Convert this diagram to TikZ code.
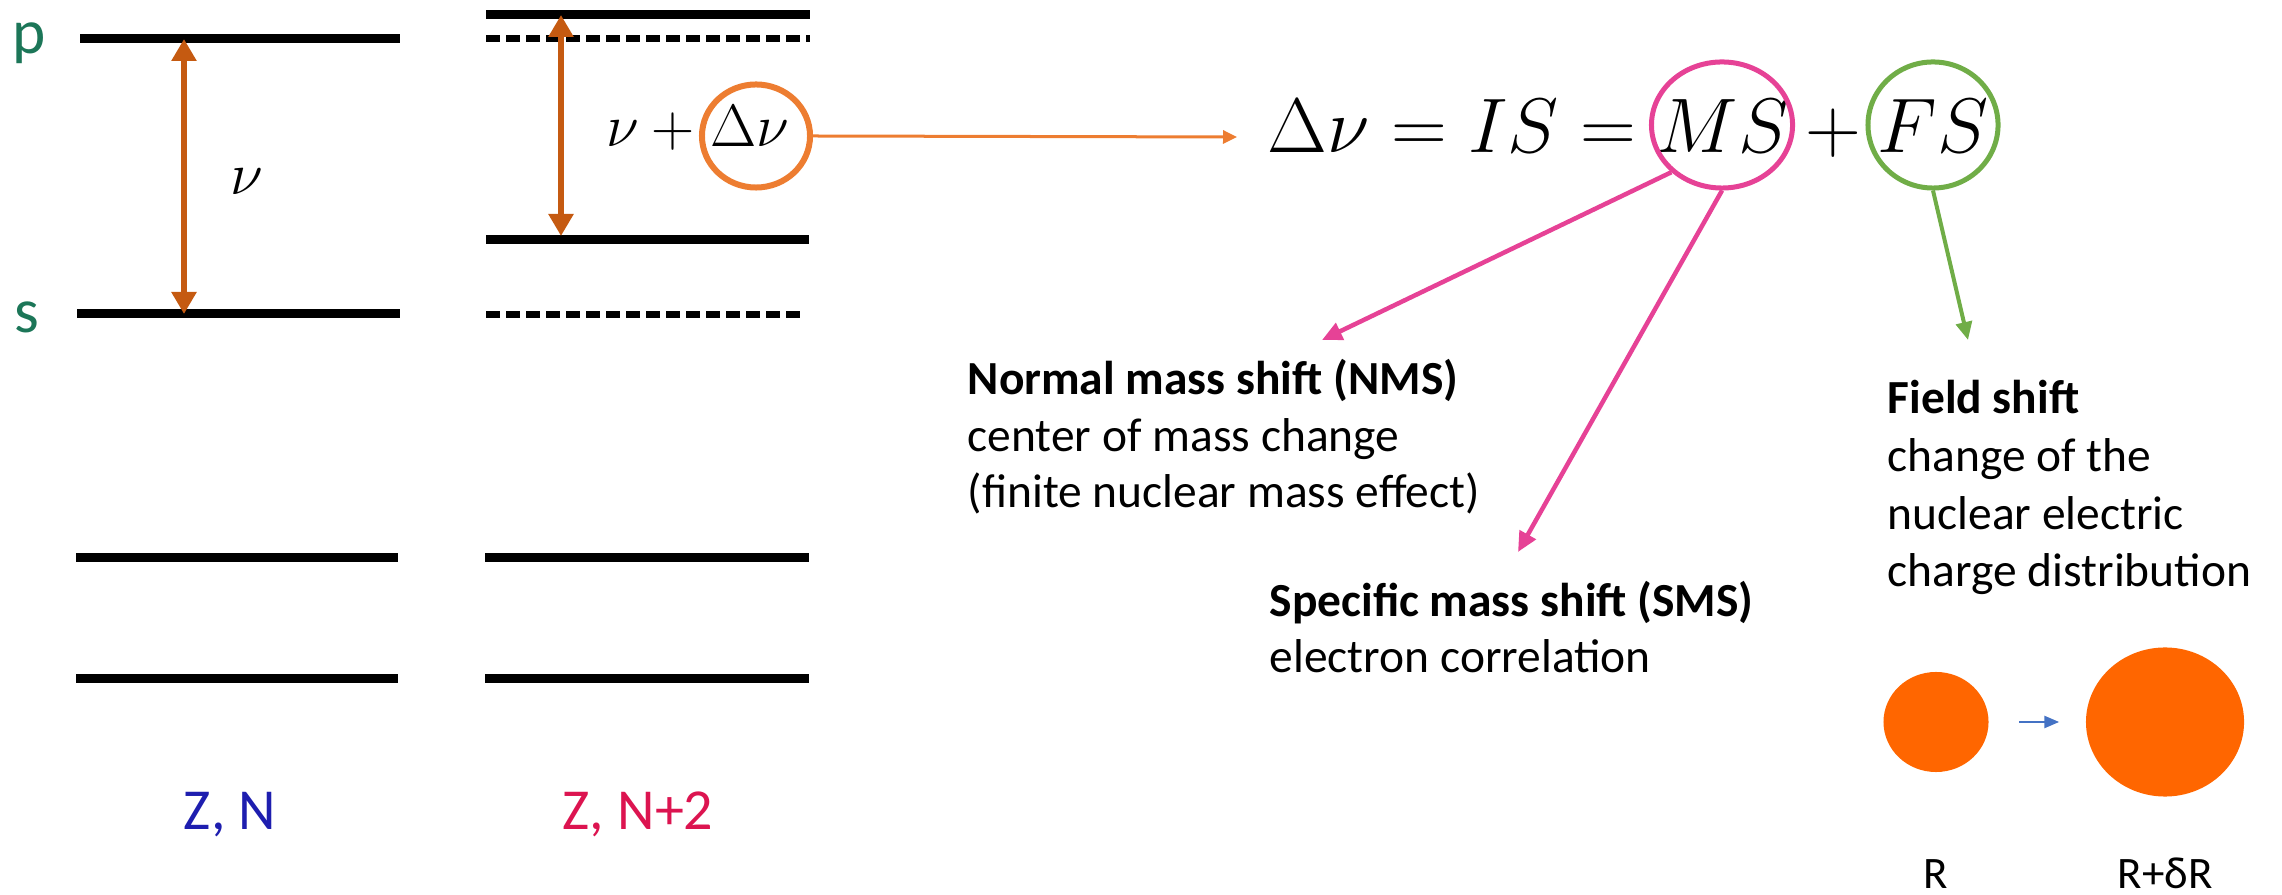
\RequirePackage{fix-cm}
\documentclass[tikz,border=0pt]{standalone}
\usepackage[no-math]{fontspec}
\setmainfont{Carlito}
\usetikzlibrary{arrows.meta,shapes.geometric}
\definecolor{levelarrow}{RGB}{197,90,17}
\definecolor{orangeC}{RGB}{237,125,49}
\definecolor{magentaC}{RGB}{230,66,150}
\definecolor{greenC}{RGB}{112,173,71}
\definecolor{nucleusC}{RGB}{255,102,0}
\definecolor{blueC}{RGB}{68,114,196}
\definecolor{zNblue}{RGB}{30,30,175}
\definecolor{zNred}{RGB}{220,20,80}
\definecolor{labelgreen}{RGB}{28,118,88}
\begin{document}
\begin{tikzpicture}[x=0.01cm,y=-0.01cm,
  level/.style={line width=0.09cm},
  dashlevel/.style={line width=0.07cm, dash pattern=on 0.14cm off 0.06cm},
  nuarrow/.style={draw=levelarrow, line width=0.06cm, {Triangle[length=0.22cm,width=0.24cm]}-{Triangle[length=0.22cm,width=0.24cm]}},
  oarrow/.style={draw=orangeC, line width=0.03cm, -{Triangle[length=0.14cm,width=0.13cm]}},
  magarrow/.style={draw=magentaC, line width=0.045cm, -{Triangle[length=0.2cm,width=0.18cm]}},
  grarrow/.style={draw=greenC, line width=0.04cm, -{Triangle[length=0.18cm,width=0.16cm]}},
  bluearrow/.style={draw=blueC, line width=0.025cm, -{Triangle[length=0.15cm,width=0.12cm]}},
  mathlab/.style={inner sep=0pt, font=\fontsize{17pt}{20pt}\selectfont},
  eqfont/.style={inner sep=0pt, font=\fontsize{22pt}{26pt}\selectfont},
  bodytext/.style={inner sep=0pt, font=\fontsize{13.5pt}{16pt}\selectfont},
  rlab/.style={inner sep=0pt, font=\fontsize{12.8pt}{15pt}\selectfont},
  znlab/.style={inner sep=0pt, font=\fontsize{16.5pt}{20pt}\selectfont},
  pslab/.style={inner sep=0pt, text=labelgreen, font=\fontsize{18pt}{21pt}\selectfont},
  ring/.style={ellipse, inner sep=0pt},
  nucleus/.style={ellipse, inner sep=0pt, fill=nucleusC}
]
\useasboundingbox (0,0) rectangle (2282,895);

% level labels
\node[pslab, anchor=base] (plab) at (29,54) {p};
\node[pslab, anchor=base] (slab) at (27,333) {s};

% levels (Z, N)
\draw[level] (80,39) -- (400,39);
\draw[level] (77,314) -- (400,314);
\draw[level] (76,558) -- (398,558);
\draw[level] (76,679) -- (398,679);
% levels (Z, N+2)
\draw[level] (486,15) -- (810,15);
\draw[dashlevel] (486,39) -- (810,39);
\draw[level] (486,240) -- (809,240);
\draw[dashlevel] (486,315) -- (802,315);
\draw[level] (485,558) -- (809,558);
\draw[level] (485,679) -- (809,679);

% transition arrows
\coordinate (nuLtop) at (184,39);
\coordinate (nuLbot) at (184,314);
\coordinate (nuRtop) at (561,15);
\coordinate (nuRbot) at (561,236);
\draw[nuarrow] (nuLtop) -- (nuLbot);
\draw[nuarrow] (nuRtop) -- (nuRbot);

\node[mathlab] (nuL) at (247,182) {$\nu$};
\node[mathlab, anchor=base east] (nuplus) at (709,147) {$\nu+{}$};
\node[mathlab, anchor=base] (dnu) at (750,147) {$\Delta\nu$};
\node[ring, draw=orangeC, line width=0.06cm, minimum width=1.08cm, minimum height=1.03cm] (dnuc) at (756,136) {};

% isotope labels
\node[znlab, text=zNblue, anchor=base] (zn) at (230,830) {Z, N};
\node[znlab, text=zNred, anchor=base] (zn2) at (638,830) {Z, N+2};

% equation
\node[eqfont, anchor=base west] (eqL) at (1267,153) {$\Delta\nu = IS =$};
\node[eqfont, anchor=base] (msT) at (1723,153) {$MS$};
\node[eqfont, anchor=base] (plusT) at (1833,153) {$+$};
\node[eqfont, anchor=base] (fsT) at (1933,153) {$FS$};
\node[ring, draw=magentaC, line width=0.05cm, minimum width=1.41cm, minimum height=1.26cm] (ms) at (1722,125) {};
\node[ring, draw=greenC, line width=0.05cm, minimum width=1.30cm, minimum height=1.26cm] (fs) at (1933,125) {};

\coordinate (eqtip) at (1237,137);
\draw[oarrow] (dnuc.east) -- (eqtip);

% connectors from MS and FS
\coordinate (nmstip) at (1322,340);
\coordinate (smstip) at (1518,552);
\coordinate (fstip) at (1968,340);
\draw[magarrow] (ms.-137) -- (nmstip);
\draw[magarrow] (ms.south) -- (smstip);
\draw[grarrow] (fs.south) -- (fstip);

% NMS text
\node[bodytext, anchor=base west] (nms1) at (967,395) {\textbf{Normal mass shift (NMS)}};
\node[bodytext, anchor=base west] (nms2) at (967,452) {center of mass change};
\node[bodytext, anchor=base west] (nms3) at (967,508) {(finite nuclear mass effect)};

% SMS text
\node[bodytext, anchor=base west] (sms1) at (1269,617) {\textbf{Specific mass shift (SMS)}};
\node[bodytext, anchor=base west] (sms2) at (1269,673) {electron correlation};

% Field shift text
\node[bodytext, anchor=base west] (fs1) at (1887,414) {\textbf{Field shift}};
\node[bodytext, anchor=base west] (fs2) at (1887,472) {change of the};
\node[bodytext, anchor=base west] (fs3) at (1887,530) {nuclear electric};
\node[bodytext, anchor=base west] (fs4) at (1887,587) {charge distribution};

% nuclei
\node[nucleus, minimum width=1.05cm, minimum height=1.0cm] (nuc1) at (1936,722) {};
\node[nucleus, minimum width=1.58cm, minimum height=1.49cm] (nuc2) at (2165,722) {};
\draw[bluearrow, shorten <=0.3cm, shorten >=0.26cm] (nuc1) -- (nuc2);
\node[rlab, anchor=base] (rA) at (1936,889) {R};
\node[rlab, anchor=base] (rB) at (2165,889) {R+δR};
\end{tikzpicture}
\end{document}
